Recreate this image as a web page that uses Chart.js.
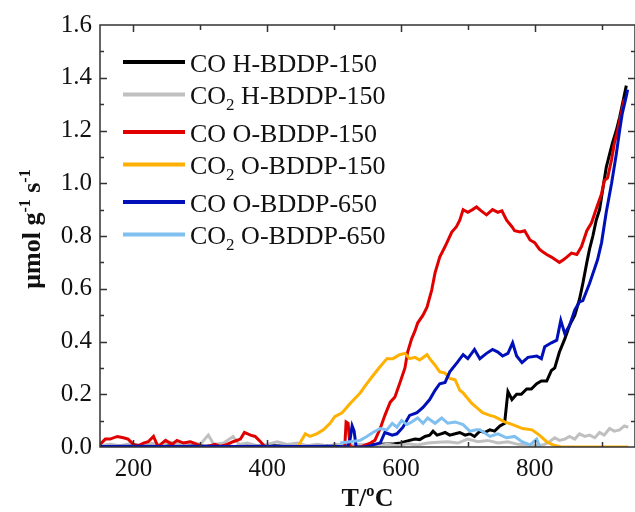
<!DOCTYPE html>
<html>
<head>
<meta charset="utf-8">
<script src="https://cdn.jsdelivr.net/npm/chart.js@4"></script>
<style>
  html, body { margin: 0; padding: 0; background: #fff; }
  canvas { display: block; }
</style>
</head>
<body>
<canvas id="tpdChart" width="635" height="512"></canvas>
<script>
// CO H-BDDP-150 (black)
const coH_T = [150,170,190,210,230,250,270,290,310,330,350,370,390,410,430,450,470,490,510,530,550,570,590,600,606,613,621,628,636,643,648,654,660,666,673,681,688,696,703,710,718,725,733,740,748,755,760,766,773,780,788,795,803,810,818,825,830,837,845,852,860,867,872,878,882,887,892,897,902,907,912,916,922,927,932,937];
const coH_V = [0.003,0.005,0.002,0.004,0.003,0.005,0.002,0.004,0.003,0.005,0.002,0.004,0.003,0.005,0.002,0.004,0.003,0.006,0.004,0.005,0.008,0.01,0.012,0.015,0.02,0.025,0.03,0.028,0.04,0.045,0.06,0.045,0.05,0.055,0.045,0.05,0.055,0.045,0.05,0.04,0.06,0.055,0.065,0.06,0.08,0.09,0.21,0.18,0.2,0.2,0.22,0.22,0.24,0.25,0.25,0.29,0.3,0.36,0.41,0.46,0.5,0.56,0.62,0.7,0.75,0.8,0.86,0.9,0.98,1.06,1.11,1.15,1.2,1.25,1.31,1.37];

// CO2 H-BDDP-150 (gray)
const co2H_T = [150,165,180,195,210,225,240,255,270,285,300,312,320,335,349,358,370,385,400,415,430,445,460,475,490,505,520,535,550,565,580,595,610,625,640,655,670,685,700,715,730,745,760,775,790,805,815,822,830,837,845,852,860,867,875,882,890,897,904,912,919,927,934,940];
const co2H_V = [0.005,0.01,0.005,0.012,0.008,0.015,0.01,0.018,0.012,0.02,0.01,0.045,0.01,0.015,0.04,0.01,0.015,0.005,0.01,0.02,0.01,0.015,0.005,0.01,0.005,0.01,0.005,0.01,0.008,0.005,0.01,0.005,0.012,0.008,0.015,0.018,0.02,0.015,0.03,0.02,0.025,0.015,0.02,0.01,0.008,0.005,0.01,0.02,0.035,0.025,0.03,0.04,0.03,0.05,0.04,0.045,0.035,0.055,0.045,0.07,0.06,0.065,0.08,0.075];

// CO O-BDDP-150 (red)
const coO150_T = [150,158,165,176,185,192,200,208,215,222,230,237,243,248,258,265,275,285,295,305,315,322,330,340,349,360,366,375,382,390,397,420,450,480,510,516,518,521,524,540,554,561,569,576,584,591,598,606,610,616,621,625,633,639,646,651,658,666,676,683,688,693,700,707,713,720,728,737,745,751,758,766,770,778,785,793,800,807,812,818,825,831,837,843,848,855,863,870,878,885,893,900,904,909,915,919,924,929,934];
const coO150_V = [0.01,0.03,0.03,0.04,0.035,0.03,0.01,0.005,0.015,0.02,0.04,0.0,0.015,0.025,0.01,0.025,0.015,0.02,0.01,0.0,0.005,0.01,0.002,0.01,0.02,0.03,0.055,0.045,0.04,0.02,0.0,0.0,0.0,0.0,0.0,0.0,0.095,0.09,0.0,0.0,0.015,0.025,0.07,0.12,0.17,0.19,0.24,0.3,0.36,0.41,0.44,0.47,0.5,0.53,0.595,0.66,0.72,0.76,0.815,0.835,0.86,0.9,0.89,0.9,0.91,0.895,0.88,0.9,0.89,0.895,0.86,0.835,0.82,0.815,0.82,0.785,0.775,0.75,0.74,0.73,0.72,0.71,0.7,0.71,0.72,0.735,0.73,0.76,0.82,0.85,0.91,0.96,1.01,1.02,1.09,1.15,1.2,1.26,1.32];

// CO2 O-BDDP-150 (orange)
const co2O150_T = [445,449,457,464,474,484,494,501,512,524,539,549,558,569,579,588,598,606,613,621,628,639,643,651,658,666,673,681,688,693,706,713,722,733,740,755,767,782,796,807,818,827,840,880,940];
const co2O150_V = [0.0,0.015,0.05,0.04,0.05,0.065,0.09,0.115,0.13,0.165,0.205,0.24,0.27,0.305,0.335,0.335,0.35,0.355,0.335,0.34,0.33,0.35,0.335,0.31,0.285,0.28,0.26,0.255,0.215,0.205,0.165,0.15,0.13,0.12,0.115,0.095,0.085,0.07,0.065,0.045,0.02,0.008,0.0,0.0,0.0];

// CO O-BDDP-650 (blue)
const coO650_T = [150,200,250,300,350,400,450,500,520,524,527,530,533,545,555,561,569,576,587,594,603,613,624,633,643,651,658,666,673,684,693,700,710,718,728,737,745,752,760,767,773,781,790,803,810,815,825,833,839,845,852,860,867,872,882,890,894,900,907,915,922,927,931,937,939];
const coO650_V = [0.002,0.003,0.002,0.003,0.002,0.003,0.002,0.003,0.0,0.03,0.08,0.06,0.0,0.0,0.005,0.01,0.015,0.055,0.045,0.05,0.075,0.12,0.13,0.15,0.18,0.215,0.24,0.245,0.285,0.32,0.35,0.335,0.37,0.335,0.355,0.37,0.36,0.345,0.355,0.395,0.345,0.32,0.34,0.345,0.335,0.38,0.395,0.405,0.48,0.43,0.46,0.52,0.55,0.555,0.62,0.68,0.71,0.775,0.89,1.0,1.11,1.2,1.265,1.33,1.355];

// CO2 O-BDDP-650 (light blue)
const co2O650_T = [509,524,539,549,558,569,579,587,594,601,609,616,625,633,640,651,661,670,681,693,703,713,718,733,745,758,770,781,793,803,808];
const co2O650_V = [0.015,0.02,0.025,0.04,0.055,0.07,0.065,0.09,0.075,0.1,0.085,0.095,0.11,0.09,0.11,0.09,0.11,0.09,0.095,0.085,0.06,0.065,0.065,0.04,0.05,0.035,0.04,0.02,0.008,0.03,0.0];

const seriesLabels = ['CO H-BDDP-150', 'CO₂ H-BDDP-150', 'CO O-BDDP-150', 'CO₂ O-BDDP-150', 'CO O-BDDP-650', 'CO₂ O-BDDP-650'];
const seriesColors = ['#000000', '#c0c0c0', '#e00000', '#ffb000', '#0010b8', '#80c0f0'];
const xTickLabels = [200, 400, 600, 800];
const yTickLabels = [0, 0.2, 0.4, 0.6, 0.8, 1.0, 1.2, 1.4, 1.6];

const serif = '"Liberation Serif", "Times New Roman", serif';

function toPoints(ts, vs) {
    return ts.map((t, i) => ({ x: t, y: vs[i] }));
}

const seriesData = [
    toPoints(coH_T, coH_V),
    toPoints(co2H_T, co2H_V),
    toPoints(coO150_T, coO150_V),
    toPoints(co2O150_T, co2O150_V),
    toPoints(coO650_T, coO650_V),
    toPoints(co2O650_T, co2O650_V)
];

// frame with inward ticks on all four sides
const framePlugin = {
    id: 'frame',
    afterDatasetsDraw(chart) {
        const { ctx, chartArea: a, scales } = chart;
        ctx.save();
        ctx.strokeStyle = '#333';
        ctx.lineWidth = 1.5;
        ctx.strokeRect(a.left, a.top, a.right - a.left, a.bottom - a.top);
        ctx.beginPath();
        for (let t = 200; t <= 900; t += 100) {
            const px = Math.round(scales.x.getPixelForValue(t)) + 0.5;
            const len = t % 200 === 0 ? 7 : 5;
            ctx.moveTo(px, a.bottom); ctx.lineTo(px, a.bottom - len);
            ctx.moveTo(px, a.top); ctx.lineTo(px, a.top + len);
        }
        for (let i = 1; i < 16; i++) {
            const py = Math.round(scales.y.getPixelForValue(i / 10)) + 0.5;
            const len = i % 2 === 0 ? 7 : 4;
            ctx.moveTo(a.left, py); ctx.lineTo(a.left + len, py);
            ctx.moveTo(a.right, py); ctx.lineTo(a.right - len, py);
        }
        ctx.stroke();
        ctx.restore();
    }
};

// legend inside the plot, with subscript 2
const legendPlugin = {
    id: 'insideLegend',
    afterDraw(chart) {
        const ctx = chart.ctx;
        ctx.save();
        chart.data.datasets.forEach((ds, i) => {
            const y = 62 + Math.floor(i / 2) * 70 + (i % 2) * 32.5;
            ctx.strokeStyle = ds.borderColor;
            ctx.lineWidth = 4;
            ctx.beginPath();
            ctx.moveTo(123, y);
            ctx.lineTo(185, y);
            ctx.stroke();

            ctx.fillStyle = '#111';
            ctx.textBaseline = 'alphabetic';
            const base = y + 9.5;
            const parts = ds.label.split('₂');
            let x = 190;
            ctx.font = '26px ' + serif;
            ctx.fillText(parts[0], x, base);
            x += ctx.measureText(parts[0]).width;
            if (parts.length > 1) {
                ctx.font = '17px ' + serif;
                ctx.fillText('2', x, base + 6);
                x += ctx.measureText('2').width;
                ctx.font = '26px ' + serif;
                ctx.fillText(parts[1], x, base);
            }
        });
        ctx.restore();
    }
};

// y axis title with superscripts
const yTitlePlugin = {
    id: 'yTitle',
    afterDraw(chart) {
        const ctx = chart.ctx;
        const pieces = [['μmol g', false], ['-1', true], [' s', false], ['-1', true]];
        ctx.save();
        ctx.translate(40, 229);
        ctx.rotate(-Math.PI / 2);
        ctx.fillStyle = '#111';
        ctx.textBaseline = 'alphabetic';
        let total = 0;
        pieces.forEach(p => {
            ctx.font = 'bold ' + (p[1] ? 16 : 26) + 'px ' + serif;
            total += ctx.measureText(p[0]).width;
        });
        let x = -total / 2;
        pieces.forEach(p => {
            ctx.font = 'bold ' + (p[1] ? 16 : 26) + 'px ' + serif;
            ctx.fillText(p[0], x, p[1] ? -10 : 0);
            x += ctx.measureText(p[0]).width;
        });
        ctx.restore();
    }
};

new Chart(document.getElementById('tpdChart'), {
    type: 'line',
    data: {
        datasets: seriesData.map((pts, i) => ({
            label: seriesLabels[i],
            data: pts,
            borderColor: seriesColors[i],
            backgroundColor: seriesColors[i],
            borderWidth: 3,
            pointRadius: 0,
            tension: 0,
            fill: false,
            order: 6 - i
        }))
    },
    options: {
        responsive: false,
        animation: false,
        devicePixelRatio: 1,
        layout: { padding: { top: 25, right: 0, bottom: 0, left: 0 } },
        plugins: {
            legend: { display: false },
            tooltip: { enabled: false }
        },
        scales: {
            x: {
                type: 'linear',
                min: 150,
                max: 950,
                afterBuildTicks: s => { s.ticks = xTickLabels.map(v => ({ value: v })); },
                afterFit: s => { s.height = 65; },
                grid: { display: false, drawTicks: false },
                border: { display: false },
                ticks: {
                    padding: 7,
                    color: '#111',
                    font: { family: serif, size: 25 },
                    maxRotation: 0,
                    autoSkip: false,
                    callback: v => String(v)
                },
                title: {
                    display: true,
                    text: 'T/ºC',
                    color: '#111',
                    padding: { top: 0, bottom: 0 },
                    font: { family: serif, size: 26, weight: 'bold', lineHeight: 1 }
                }
            },
            y: {
                min: 0,
                max: 1.6,
                afterBuildTicks: s => { s.ticks = yTickLabels.map(v => ({ value: v })); },
                afterFit: s => { s.width = 100; },
                grid: { display: false, drawTicks: false },
                border: { display: false },
                ticks: {
                    padding: 8,
                    color: '#111',
                    font: { family: serif, size: 25 },
                    callback: v => v.toFixed(1)
                }
            }
        }
    },
    plugins: [framePlugin, legendPlugin, yTitlePlugin]
});
</script>
</body>
</html>
